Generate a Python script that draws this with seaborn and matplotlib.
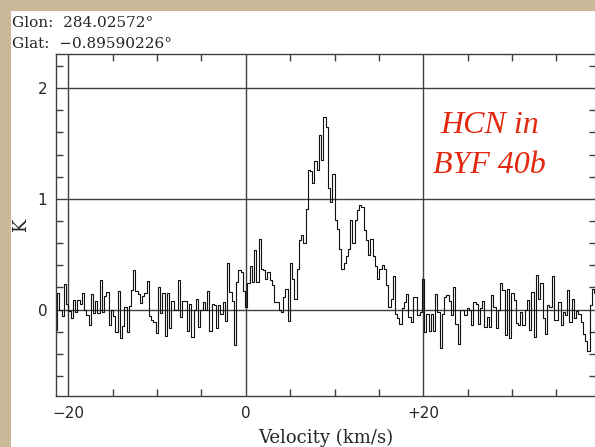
import numpy as np
import pandas as pd
import matplotlib
matplotlib.use("Agg")
import matplotlib.pyplot as plt
from matplotlib.patches import Rectangle
from matplotlib.ticker import FixedLocator, MultipleLocator, FuncFormatter
import seaborn as sns

# Spectrum channel grid (LSR velocity, km/s)
V_START = -21.5
CHAN_WIDTH = 0.252

# Antenna temperature (K), channel by channel, from blue to red velocity
t_blue_baseline = [-0.18, 0.15, 0.0, -0.06, 0.23, 0.05, -0.01, -0.08, 0.09, -0.02,
                   0.09, 0.05, 0.15, 0.0, -0.05, -0.14, 0.14, -0.03, 0.08, -0.03,
                   0.27, -0.02, 0.12, 0.16, -0.14, 0.0, -0.06, -0.2, 0.17, -0.26,
                   -0.15, 0.02, -0.2, 0.03, 0.18, 0.36, 0.17, 0.14, 0.06, 0.12,
                   0.15, 0.26, -0.06, -0.09, -0.11, -0.21, 0.2, -0.03, 0.15, -0.24,
                   0.15, -0.17, 0.08]
t_blue_wing = [0.0, 0.0, 0.27, -0.07, 0.08, 0.08, -0.19, 0.05, -0.25, 0.0,
               0.1, -0.16, 0.0, 0.07, 0.0, 0.17, -0.19, 0.05, 0.04, -0.17,
               0.04, -0.04, 0.07, -0.1, 0.42, 0.16, 0.08, -0.32, 0.25, 0.36,
               0.34, 0.17, 0.02, 0.24, 0.39, 0.25, 0.54, 0.25, 0.64, 0.37,
               0.36, 0.28, 0.34, 0.27, 0.22, 0.07, 0.07, 0.0, -0.02, 0.11,
               0.19, -0.1]
t_line_core = [0.42, 0.28, 0.1, 0.37, 0.63, 0.67, 0.6, 0.91, 1.26, 1.25,
               1.14, 1.34, 1.26, 1.58, 1.35, 1.74, 1.65, 1.1, 0.97, 1.22,
               0.81, 0.73, 0.55, 0.37, 0.42, 0.48, 0.55, 0.81, 0.6, 0.81,
               0.9, 0.94, 0.93, 0.72, 0.63, 0.49, 0.64, 0.48, 0.39, 0.28,
               0.37, 0.4, 0.37, 0.22, 0.02]
t_red_baseline = [0.1, 0.3, -0.04, -0.08, -0.13, 0.01, 0.07, 0.14, -0.07, -0.11,
                  0.11, 0.11, -0.05, -0.02, 0.28, -0.2, -0.04, -0.19, -0.04, -0.19,
                  0.14, -0.02, -0.35, -0.04, 0.11, 0.13, 0.08, -0.05, 0.2, -0.13,
                  -0.31, 0.0, 0.0, -0.05, 0.01, 0.0, -0.14, 0.07, 0.05, -0.13,
                  0.01, 0.08, -0.16, -0.07, -0.16, 0.13, 0.02, -0.17, 0.0, 0.24]
t_far_red = [0.18, -0.23, 0.19, -0.26, 0.15, 0.09, -0.12, -0.14, -0.02, -0.14,
             0.0, 0.09, -0.18, 0.16, -0.25, 0.31, 0.1, 0.24, -0.08, -0.22,
             0.04, 0.02, 0.3, -0.09, -0.09, 0.07, -0.14, -0.02, -0.05, 0.18,
             -0.11, 0.1, -0.08, -0.01, -0.04, -0.11, -0.22, -0.28, -0.37, 0.04,
             0.19, 0.15]

x_major = [-20, 0, 20]
x_labels = ["\u221220", "0", "+20"]
y_major = [0, 1, 2]
y_labels = ["0", "1", "2"]

glon_text = "Glon:  284.02572\u00b0"
glat_text = "Glat:  \u22120.89590226\u00b0"
source_lines = ["HCN in", "BYF 40b"]

temps = np.concatenate([t_blue_baseline, t_blue_wing, t_line_core,
                        t_red_baseline, t_far_red])
vel = V_START + CHAN_WIDTH * (np.arange(len(temps)) + 0.5)
spec = pd.DataFrame({"Velocity (km/s)": vel, "K": temps})

sns.set_style("ticks")
plt.rcParams["font.family"] = ["DejaVu Sans"]

W, H = 595, 447
fig = plt.figure(figsize=(W / 100, H / 100), dpi=100)
fig.patch.set_facecolor("#c9b998")
# white page behind the plot
fig.patches.append(Rectangle((11 / W, 0), 1, (H - 11) / H,
                             transform=fig.transFigure, facecolor="white",
                             edgecolor="none", zorder=-10))

left, right, top, bottom = 55.5, 596.0, 54.3, 396.0
ax = fig.add_axes([left / W, (H - bottom) / H, (right - left) / W, (bottom - top) / H])
ax.set_zorder(1)
ax.set_facecolor("white")

sns.lineplot(data=spec, x="Velocity (km/s)", y="K", drawstyle="steps-mid",
             color="#111111", linewidth=0.8, ax=ax, estimator=None)

ax.set_xlim(-21.44, 39.45)
ax.set_ylim(-0.78, 2.305)

ax.xaxis.set_major_locator(FixedLocator(x_major))
ax.xaxis.set_minor_locator(MultipleLocator(5))
ax.yaxis.set_major_locator(FixedLocator(y_major))
ax.yaxis.set_minor_locator(MultipleLocator(0.2))
ax.xaxis.set_major_formatter(FuncFormatter(lambda v, p: dict(zip(x_major, x_labels)).get(int(round(v)), "")))
ax.yaxis.set_major_formatter(FuncFormatter(lambda v, p: dict(zip(y_major, y_labels)).get(int(round(v)), "")))

ax.grid(which="major", color="#404040", linewidth=1.0)
ax.tick_params(which="both", direction="in", top=True, right=True,
               color="#404040", width=1.0)
ax.tick_params(which="minor", length=5)
ax.tick_params(which="major", length=0, labelsize=11)
ax.tick_params(axis="x", which="major", pad=7)
ax.tick_params(axis="y", which="major", pad=6)
for s in ax.spines.values():
    s.set_color("#404040")
    s.set_linewidth(1.0)

ax.set_xlabel("Velocity (km/s)", fontsize=13, family="DejaVu Serif")
ax.xaxis.set_label_coords(0.5, -0.095)
ax.xaxis.label.set_va("top")
ax.set_ylabel("K", fontsize=13, family="DejaVu Serif")
ax.yaxis.set_label_coords(-0.0638, 0.5)
ax.yaxis.label.set_va("center")

fig.text(12 / W, (H - 27) / H, glon_text, fontsize=11, family="DejaVu Serif",
         va="baseline", ha="left")
fig.text(12 / W, (H - 48) / H, glat_text, fontsize=11, family="DejaVu Serif",
         va="baseline", ha="left")

red = "#e2280f"
for line, base in zip(source_lines, [133, 173]):
    fig.text(489.5 / W, (H - base) / H, line, fontsize=23, color=red,
             family="Liberation Serif", style="italic", ha="center", va="baseline")

fig.savefig("out.png", dpi=100)
